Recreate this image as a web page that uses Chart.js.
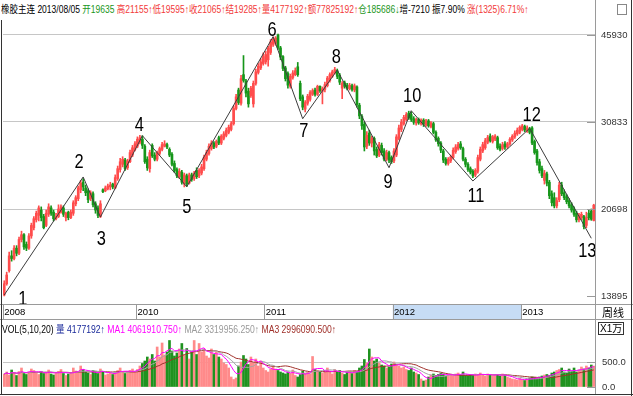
<!DOCTYPE html>
<html>
<head>
<meta charset="utf-8">
<title>橡胶主连 周线</title>
<script src="https://cdn.jsdelivr.net/npm/chart.js"></script>
<style>
  body { margin: 0; width: 633px; height: 396px; overflow: hidden; position: relative; background: #fff;
         font-family: "Liberation Sans", "Noto Sans CJK SC", sans-serif; }
  .abs { position: absolute; white-space: nowrap; }
  .r { color: #f23a3a; }
  .g { color: #1a961a; }
  .k { color: #000; }
  #title { left: 1px; top: 3px; font-size: 10.5px; line-height: 13px; transform: scaleX(0.81); transform-origin: 0 0; }
  #volhead { left: 2px; top: 323px; font-size: 10.5px; line-height: 13px; transform: scaleX(0.82); transform-origin: 0 0; }
  #price { left: 0; top: 20px; width: 633px; height: 300px; }
  #vol { left: 0; top: 320px; width: 633px; height: 76px; }
  .line { position: absolute; background: #9a9a9a; }
</style>
</head>
<body>
  <div id="title" class="abs"><span class="k">橡胶主连 2013/08/05 </span><span class="g">开19635 </span><span class="r">高21155↑低19595↑收21065↑结19285↑量4177192↑额77825192↑</span><span class="g">仓185686↓</span><span class="k">增-7210 振7.90% </span><span class="r">涨(1325)6.71%↑</span></div>

  <div id="price" class="abs"><canvas id="priceChart"></canvas></div>
  <div id="vol" class="abs"><canvas id="volChart"></canvas></div>

  <div id="volhead" class="abs"><span class="k">VOL(5,10,20) </span><span style="color:#1a2a9a">量 4177192↑ </span><span style="color:#ff00ff">MA1 4061910.750↑ </span><span style="color:#9a9a9a">MA2 3319956.250↑ </span><span style="color:#a0302a">MA3 2996090.500↑</span></div>

  <div class="line" style="left:0;top:304px;width:633px;height:1px"></div>
  <div class="line" style="left:0;top:319px;width:633px;height:1px"></div>
  <div class="line" style="left:595px;top:0;width:1px;height:394px"></div>
  <div class="line" style="left:1px;top:20px;width:1px;height:374px;background:#333"></div>
  <div class="line" style="left:0;top:394px;width:633px;height:1px;background:#333"></div>
  <div class="line" style="left:631px;top:0;width:1px;height:396px;background:#333"></div>
  <div class="abs" style="left:617px;top:4px;width:8px;height:9px;border:1px solid #888"></div>
  <div class="abs" style="left:602px;top:305px;font-size:11px;line-height:14px;font-family:'Noto Sans CJK SC',sans-serif">周线</div>
  <div class="abs" style="left:598px;top:322px;font-size:10px;line-height:11px;border:1px solid #333;padding:0 1px">X1万</div>

<script>
// weekly bars, 2008 year end to 2013/08/05
const opens = [
  13960, 14700, 15600, 16700, 16500, 17300, 16900, 18000, 18400, 17600,
  17300, 18300, 19000, 19700, 20100, 20600, 20000, 19200, 20200, 20800,
  20400, 19800, 20000, 20400, 20800, 19900, 20400, 19900, 20300, 21200,
  21700, 22600, 23400, 22800, 22500, 21700, 22200, 21200, 20800, 20000,
  22600, 22500, 22700, 22900, 23200, 22800, 23800, 24800, 25400, 25900,
  25000, 25700, 26500, 27200, 27600, 28100, 28500, 27600, 26000, 24900,
  27700, 26500, 26000, 26700, 27200, 27600, 27800, 27200, 26600, 25500,
  24800, 24000, 24500, 23200, 24100, 23300, 24200, 23800, 24700, 24100,
  24400, 24900, 26000, 26700, 27300, 28000, 27600, 28700, 28000, 28600,
  29000, 29400, 29800, 30600, 32800, 35700, 33600, 38300, 37200, 35500,
  34800, 33500, 36800, 38700, 39500, 40300, 40600, 41000, 42400, 44000,
  44200, 45900, 43300, 41600, 39500, 38500, 36300, 37800, 38300, 39700,
  36800, 34600, 32700, 33600, 34200, 35000, 35700, 35000, 36300, 35500,
  35800, 36400, 37300, 38000, 38600, 39000, 38200, 36000, 36900, 36500,
  35900, 36400, 35700, 36200, 33300, 31600, 30500, 27600, 29300, 28000,
  28600, 27200, 26500, 27700, 27000, 26000, 26800, 26200, 25800, 26500,
  28600, 29800, 30600, 31200, 32100, 31900, 31300, 30700, 31200, 30600,
  31100, 30400, 31000, 30200, 30600, 29400, 28600, 28000, 27000, 26000,
  25500, 25800, 26200, 26900, 27300, 27900, 27300, 26000, 25400, 24900,
  24600, 24200, 24600, 26000, 27000, 27400, 28100, 28900, 28200, 28500,
  28700, 27600, 27300, 27900, 27500, 27900, 28400, 28800, 29200, 29400,
  29800, 30200, 29600, 29900, 30000, 28200, 27000, 25700, 24900, 23600,
  24300, 23400, 22200, 21800, 21000, 21600, 23100, 22300, 21900, 21500,
  21100, 20700, 20300, 19700, 19900, 20000, 19200, 20300, 20500, 19635
];
const highs = [
  14900, 15500, 17000, 17100, 17500, 17500, 18200, 18700, 18500, 17800,
  18500, 19400, 20000, 20500, 21000, 20900, 20200, 20600, 21200, 21000,
  20600, 20300, 21100, 21100, 21000, 20400, 20500, 20600, 21500, 22000,
  23000, 23600, 23800, 23100, 22700, 22500, 22400, 21400, 21000, 21500,
  22700, 23000, 23200, 23400, 23300, 24200, 25200, 26100, 26300, 26100,
  26000, 27100, 27700, 28200, 28800, 29000, 28950, 27800, 26300, 27100,
  27900, 26800, 27000, 27500, 28100, 28300, 28000, 27400, 26800, 25800,
  25000, 24900, 24700, 24400, 24300, 24400, 24400, 24600, 25000, 24900,
  25400, 26500, 27100, 27900, 28300, 28200, 28400, 28900, 29100, 29500,
  30000, 30400, 30900, 33200, 35000, 36000, 38200, 41800, 37500, 36000,
  36300, 37200, 39300, 40300, 41200, 42300, 42600, 43600, 45000, 45500,
  45600, 46100, 43600, 41800, 39800, 38800, 38400, 39000, 39500, 40500,
  37200, 34900, 34000, 35000, 35600, 35900, 36000, 36500, 36400, 36200,
  37000, 38000, 38600, 39100, 39600, 39300, 38500, 37100, 37200, 36800,
  36800, 36700, 36700, 36400, 33600, 31900, 30800, 29500, 29700, 28900,
  28800, 27500, 28100, 28000, 27300, 27100, 27000, 26400, 27300, 29100,
  30400, 31200, 31800, 32200, 32400, 32300, 31600, 31400, 31400, 31300,
  31300, 31200, 31200, 30900, 30800, 29600, 28800, 28200, 27200, 26200,
  26200, 26500, 27400, 27800, 28100, 28200, 27500, 26200, 25600, 25100,
  24800, 24900, 26500, 27500, 28100, 28600, 29000, 29200, 29000, 29100,
  28900, 27900, 28100, 28200, 28100, 28700, 29100, 29600, 30000, 30300,
  30500, 30400, 30300, 30100, 30200, 28400, 27200, 26000, 25200, 24700,
  24500, 23600, 22500, 22300, 21800, 23400, 23400, 22600, 22100, 21700,
  21300, 20900, 20500, 20300, 20400, 20100, 20400, 20600, 20700, 21155
];
const lows = [
  13900, 14600, 15500, 16300, 16400, 16700, 16800, 17800, 17200, 17100,
  17200, 18100, 18800, 19500, 19600, 19600, 18900, 19100, 20000, 20100,
  19600, 19700, 19900, 20300, 20000, 19600, 19700, 19800, 20100, 21000,
  21500, 22300, 22500, 22000, 21300, 21500, 20900, 20300, 19900, 19900,
  22300, 22400, 22600, 22600, 22700, 22700, 23600, 24500, 25100, 24700,
  24800, 25600, 26300, 27000, 27400, 27900, 27300, 25500, 24700, 24500,
  26200, 25800, 25800, 26500, 27000, 27500, 27300, 26300, 25200, 24500,
  23900, 23800, 23200, 22900, 22950, 23200, 23500, 23600, 23800, 23900,
  24200, 24700, 25800, 26500, 27100, 27300, 27400, 27800, 27800, 28400,
  28800, 29200, 29600, 30400, 32600, 33400, 33300, 37000, 34600, 33000,
  34500, 33000, 36500, 38400, 39200, 40000, 40200, 39800, 42000, 43600,
  43800, 43000, 41000, 39000, 37200, 36000, 36000, 37500, 38100, 38000,
  34000, 32600, 32300, 33300, 33900, 34800, 34700, 34800, 35300, 33500,
  35400, 36200, 37000, 37800, 38400, 37600, 36600, 34300, 36000, 35700,
  35700, 35500, 35400, 33000, 31300, 29800, 27000, 27300, 27700, 27500,
  26500, 26200, 26300, 26500, 25800, 25800, 25600, 25500, 25600, 26300,
  28400, 29500, 30400, 31000, 31200, 30900, 30500, 30400, 30500, 30400,
  30200, 30200, 30100, 30000, 29200, 28200, 27600, 26800, 25600, 25300,
  25300, 25600, 26000, 26700, 27100, 27200, 25800, 25100, 24600, 24300,
  23900, 24000, 24400, 25800, 26800, 27200, 27900, 28100, 28000, 28300,
  27200, 27000, 27100, 27200, 27300, 27700, 28200, 28600, 29000, 29200,
  29600, 29500, 29400, 29200, 27800, 26600, 25300, 24400, 23900, 23200,
  23000, 21700, 21000, 20800, 20800, 21400, 22000, 21600, 21200, 20800,
  20400, 20000, 19500, 19500, 19700, 18900, 19000, 19700, 19650, 19595
];
const closes = [
  14700, 15300, 16700, 16500, 17300, 16900, 18000, 18400, 17400, 17300,
  18300, 19200, 19800, 20300, 20800, 19900, 19000, 20300, 20900, 20300,
  19800, 20000, 20700, 20900, 20200, 20300, 19900, 20400, 21300, 21800,
  22800, 23300, 22900, 22300, 21600, 22300, 21100, 20600, 20100, 21200,
  22400, 22800, 23000, 23100, 22900, 23900, 24900, 25700, 26000, 24900,
  25800, 26800, 27400, 27900, 28500, 28700, 27700, 25700, 25000, 26800,
  26400, 26000, 26800, 27300, 27800, 27900, 27500, 26500, 25400, 24700,
  24100, 24600, 23400, 24200, 23200, 24200, 23700, 24400, 24000, 24700,
  25100, 26200, 26800, 27600, 28000, 27500, 28200, 28000, 28900, 29200,
  29700, 30100, 30600, 32800, 34600, 33700, 37600, 37300, 35200, 33500,
  36000, 36800, 38800, 39800, 40600, 41600, 42000, 43200, 44500, 45000,
  45300, 43400, 41500, 39400, 37600, 36500, 38000, 38600, 39000, 38300,
  34300, 33000, 33700, 34700, 35300, 35600, 35000, 36300, 35600, 35900,
  36600, 37700, 38300, 38800, 39200, 38000, 37000, 36800, 36300, 36000,
  36500, 35800, 36400, 33400, 31700, 30300, 27500, 29000, 28000, 28600,
  27000, 26400, 27800, 26800, 26000, 26800, 25900, 25700, 27000, 28800,
  30000, 30800, 31500, 31900, 31400, 31200, 30800, 31200, 30700, 31100,
  30500, 31000, 30300, 30700, 29400, 28400, 27900, 27100, 25900, 25500,
  26000, 26300, 27100, 27500, 27800, 27400, 26000, 25400, 24800, 24500,
  24100, 24700, 26200, 27200, 27800, 28300, 28700, 28300, 28800, 28900,
  27400, 27200, 27800, 27500, 27900, 28500, 28900, 29300, 29700, 30100,
  30300, 29700, 30000, 29400, 28000, 26800, 25600, 24700, 24100, 24400,
  23300, 22000, 21300, 21000, 21500, 23100, 22200, 21800, 21400, 21000,
  20600, 20200, 19700, 20100, 20200, 19100, 19900, 19900, 19750, 21065
];
// volume, unit 万 (x10000)
const volumes = [
  260, 300, 240, 340, 280, 230, 310, 380, 270, 250,
  300, 360, 330, 280, 250, 310, 270, 300, 340, 260,
  240, 280, 310, 350, 270, 230, 260, 290, 380, 320,
  300, 420, 350, 300, 280, 250, 330, 300, 270, 360,
  310, 240, 260, 290, 250, 300, 330, 380, 300, 270,
  300, 330, 360, 310, 350, 420, 470, 520, 600, 560,
  650, 520, 800, 600, 880, 640, 700, 930, 720, 620,
  680, 760, 870, 640, 770, 560, 700, 930, 650, 870,
  700, 760, 620, 580, 760, 650, 700, 600, 560, 480,
  450, 380, 200, 150, 180, 420, 500, 630, 560, 450,
  600, 480, 560, 420, 520, 380, 330, 300, 360, 400,
  360, 330, 300, 280, 260, 300, 270, 340, 230, 200,
  250, 320, 280, 300, 260, 610, 350, 330, 300, 280,
  320, 380, 300, 260, 350, 300, 330, 280, 250, 300,
  310, 270, 330, 300, 380, 420, 550, 480, 760, 600,
  520, 560, 480, 440, 420, 380, 400, 460, 500, 450,
  420, 380, 400, 350, 330, 380, 300, 280, 250, 160,
  120, 140, 200, 240, 260, 230, 250, 270, 260, 220,
  240, 250, 230, 260, 280, 240, 300, 230, 220, 250,
  230, 260, 240, 280, 250, 220, 260, 240, 230, 250,
  240, 220, 260, 230, 200, 180, 160, 150, 140, 170,
  150, 130, 160, 180, 200, 190, 170, 200, 220, 240,
  250, 230, 280, 300, 330, 350, 380, 300, 280, 360,
  320, 380, 300, 340, 400, 360, 420, 380, 440, 418
];

const yearTicks = ['2008', '2010', '2011', '2012', '2013'];
const yearTickIdx = [0, 54, 106, 158, 210];
const priceTicks = [13895, 20698, 30833, 45930];
const volTicks = [0, 500];

// wave count points
const waveName = ['1', '2', '3', '4', '5', '6', '7', '8', '9', '10', '11', '12', '13'];
const waveIdx = [0, 32, 39, 56, 74, 109, 121, 135, 156, 165, 190, 213, 238];
const waveVal = [13960, 23970, 19950, 28960, 22920, 45570, 31300, 39120, 25010, 32470, 23530, 29960, 18100];
// label placement relative to its point (px)
const waveDx = [14, -4, 1, -3, 0, -1, 1, -1, -1, 1, 3, 2, -4];
const waveDy = [10, -9, 28, -5, 26, -1, 18, -7, 20, -9, 21, -7, 19];

const UP = '#ff4c4c', DOWN = '#16961a';
const VOL_UP = '#ff8a8a', VOL_DOWN = '#1f921f';
const FONT = '"Liberation Sans", sans-serif';

const weeks = opens.map((_, i) => i);
const up = closes.map((c, i) => c >= opens[i]);
const waveData = weeks.map(i => { const k = waveIdx.indexOf(i); return k < 0 ? null : waveVal[k]; });

function movingAvg(arr, n) {
  return arr.map((_, i) => {
    const part = arr.slice(Math.max(0, i - n + 1), i + 1);
    return part.reduce((a, b) => a + b, 0) / part.length;
  });
}

// keep the plot area where it is: no label overhang padding
function fitRight(s) {
  s.width = 38;
  s.paddingTop = 0;
  s.paddingBottom = 0;
}

// date strip: highlight of 2012 and year separators
const stripPlugin = {
  id: 'strip',
  beforeDraw(chart) {
    const { ctx, chartArea, scales: { x } } = chart;
    const half = (x.getPixelForValue(1) - x.getPixelForValue(0)) / 2;
    const edge = i => x.getPixelForValue(i) - half;
    const top = chartArea.bottom + 1, h = 14;
    ctx.save();
    ctx.fillStyle = '#c6dcf5';
    ctx.fillRect(edge(yearTickIdx[3]), top, edge(yearTickIdx[4]) - edge(yearTickIdx[3]), h);
    ctx.fillStyle = '#9a9a9a';
    yearTickIdx.forEach(i => ctx.fillRect(Math.round(edge(i)), top, 1, h));
    ctx.restore();
  }
};

// short tick marks left of the right axis
const tickMarks = {
  id: 'tickMarks',
  afterDraw(chart) {
    const { ctx, chartArea, scales: { y } } = chart;
    ctx.save();
    ctx.fillStyle = '#9a9a9a';
    y.ticks.forEach(t => {
      const py = Math.round(y.getPixelForValue(t.value));
      ctx.fillRect(chartArea.right - 8, py, 8, 1);
    });
    ctx.restore();
  }
};

// wave numbers, drawn in a condensed face
const waveLabels = {
  id: 'waveLabels',
  afterDatasetsDraw(chart) {
    const { ctx, scales: { x, y } } = chart;
    ctx.save();
    ctx.font = '20px ' + FONT;
    ctx.fillStyle = '#000';
    ctx.textBaseline = 'alphabetic';
    waveIdx.forEach((idx, k) => {
      const px = x.getPixelForValue(idx), py = y.getPixelForValue(waveVal[k]);
      ctx.save();
      ctx.translate(px + waveDx[k], py + waveDy[k]);
      ctx.scale(0.82, 1);
      ctx.textAlign = k === 0 ? 'left' : 'center';
      ctx.fillText(waveName[k], 0, 0);
      ctx.restore();
    });
    ctx.restore();
  }
};

new Chart(document.getElementById('priceChart'), {
  type: 'bar',
  data: {
    labels: weeks,
    datasets: [
      {
        type: 'line', data: waveData, borderColor: '#3c3c3c', borderWidth: 1,
        pointRadius: 0, spanGaps: true, order: 0
      },
      {
        data: opens.map((o, i) => [o, closes[i]]),
        backgroundColor: up.map(u => u ? UP : DOWN),
        barThickness: 2, minBarLength: 1, grouped: false, order: 1
      },
      {
        data: highs.map((h, i) => [lows[i], h]),
        backgroundColor: up.map(u => u ? UP : DOWN),
        barThickness: 1, grouped: false, order: 2
      }
    ]
  },
  options: {
    animation: false,
    responsive: true,
    maintainAspectRatio: false,
    devicePixelRatio: 1,
    layout: { padding: { left: 3, right: 0, top: 0, bottom: 0 } },
    plugins: { legend: { display: false }, tooltip: { enabled: false } },
    scales: {
      x: {
        offset: true,
        grid: { display: false, drawTicks: false, tickLength: 0 },
        border: { display: false },
        afterBuildTicks: s => { s.ticks = yearTickIdx.map(v => ({ value: v })); },
        afterFit: s => { s.height = 16; s.paddingLeft = 0; s.paddingRight = 0; },
        ticks: {
          autoSkip: false, maxRotation: 0, minRotation: 0, align: 'start', padding: 3,
          color: '#000', font: { family: FONT, size: 9.5 },
          callback: (v, i) => yearTicks[i]
        }
      },
      y: {
        type: 'logarithmic',
        position: 'right',
        min: 13396,
        max: 49193,
        bounds: 'data',
        afterBuildTicks: s => { s.ticks = priceTicks.map(v => ({ value: v })); },
        afterFit: fitRight,
        grid: {
          drawTicks: false,
          color: c => (c.tick && c.tick.value === priceTicks[0]) ? 'rgba(0,0,0,0)' : '#c6c6c6'
        },
        border: { display: false },
        ticks: { padding: 6, color: '#333', font: { family: FONT, size: 9.5 }, callback: v => String(v) }
      }
    }
  },
  plugins: [stripPlugin, tickMarks, waveLabels]
});

new Chart(document.getElementById('volChart'), {
  type: 'bar',
  data: {
    labels: weeks,
    datasets: [
      { type: 'line', data: movingAvg(volumes, 5), borderColor: '#ff00ff', borderWidth: 1, pointRadius: 0, order: 0 },
      { type: 'line', data: movingAvg(volumes, 10), borderColor: '#a6a6a6', borderWidth: 1, pointRadius: 0, order: 1 },
      { type: 'line', data: movingAvg(volumes, 20), borderColor: '#a0302a', borderWidth: 1, pointRadius: 0, order: 2 },
      { data: volumes, backgroundColor: up.map(u => u ? VOL_UP : VOL_DOWN), barThickness: 2, order: 5 }
    ]
  },
  options: {
    animation: false,
    responsive: true,
    maintainAspectRatio: false,
    devicePixelRatio: 1,
    layout: { padding: { left: 3, right: 0, top: 16, bottom: 9 } },
    plugins: { legend: { display: false }, tooltip: { enabled: false } },
    scales: {
      x: { display: false, offset: true },
      y: {
        position: 'right',
        min: 0,
        max: 1020,
        bounds: 'data',
        afterBuildTicks: s => { s.ticks = volTicks.map(v => ({ value: v })); },
        afterFit: fitRight,
        grid: { drawTicks: false, color: c => (c.tick && c.tick.value === 0) ? 'rgba(0,0,0,0)' : '#c6c6c6' },
        border: { display: false },
        ticks: { padding: 7, color: '#333', font: { family: FONT, size: 9.5 }, callback: v => v.toFixed(1) }
      }
    }
  },
  plugins: [tickMarks]
});
</script>
</body>
</html>
